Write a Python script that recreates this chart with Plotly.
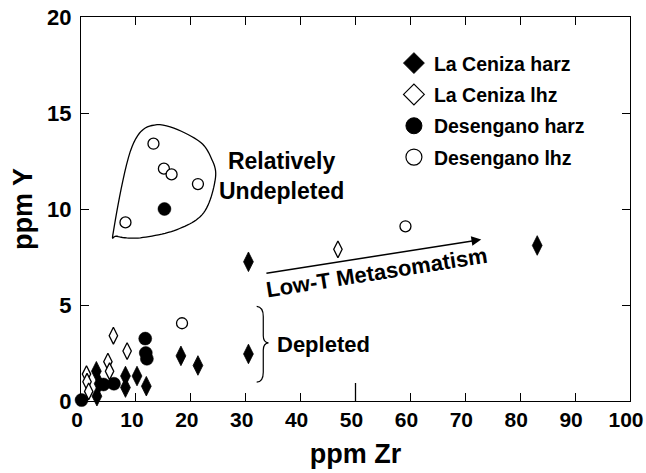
import numpy as np
import plotly.graph_objects as go

# ---- data: Zr vs Y (ppm) ----
lc_harz_zr = [2.8, 2.9, 3.3, 8.1, 8.1, 10.2, 11.9, 18.2, 21.3, 30.5, 30.5, 83.1]
lc_harz_y = [1.55, 0.25, 0.9, 1.3, 0.7, 1.3, 0.77, 2.35, 1.85, 2.45, 7.25, 8.1]

lc_lhz_zr = [1.0, 1.1, 1.4, 4.9, 5.2, 5.9, 8.4, 46.8]
lc_lhz_y = [1.4, 1.0, 0.5, 2.05, 1.55, 3.4, 2.6, 7.9]

ds_harz_zr = [0.1, 4.1, 6.0, 11.7, 11.8, 12.0, 15.2]
ds_harz_y = [0.05, 0.86, 0.9, 3.25, 2.5, 2.2, 10.0]

ds_lhz_zr = [8.1, 13.2, 15.1, 16.5, 21.3, 18.4, 59.1]
ds_lhz_y = [9.3, 13.4, 12.1, 11.8, 11.3, 4.05, 9.1]

series_names = ["La Ceniza harz", "La Ceniza lhz", "Desengano harz", "Desengano lhz"]

FONT = "Liberation Sans"
BLACK = "black"

fig = go.Figure()

# data traces
fig.add_trace(go.Scatter(x=lc_lhz_zr, y=lc_lhz_y, mode="markers", showlegend=False,
                         cliponaxis=False,
                         marker=dict(symbol="diamond-tall", size=12, color="white",
                                     line=dict(color=BLACK, width=1.3))))
fig.add_trace(go.Scatter(x=ds_lhz_zr, y=ds_lhz_y, mode="markers", showlegend=False,
                         cliponaxis=False,
                         marker=dict(symbol="circle", size=11, color="white",
                                     line=dict(color=BLACK, width=1.3))))
fig.add_trace(go.Scatter(x=lc_harz_zr, y=lc_harz_y, mode="markers", showlegend=False,
                         cliponaxis=False,
                         marker=dict(symbol="diamond-tall", size=14, color=BLACK,
                                     line=dict(color=BLACK, width=0.8))))
fig.add_trace(go.Scatter(x=ds_harz_zr, y=ds_harz_y, mode="markers", showlegend=False,
                         cliponaxis=False,
                         marker=dict(symbol="circle", size=13, color=BLACK,
                                     line=dict(color=BLACK, width=0.5))))

# legend keys
legend_markers = [
    dict(symbol="diamond", size=16, color=BLACK, line=dict(color=BLACK, width=1)),
    dict(symbol="diamond", size=16, color="white", line=dict(color=BLACK, width=1.2)),
    dict(symbol="circle", size=16, color=BLACK, line=dict(color=BLACK, width=1)),
    dict(symbol="circle", size=16, color="white", line=dict(color=BLACK, width=1.2)),
]
for name, mk in zip(series_names, legend_markers):
    fig.add_trace(go.Scatter(x=[None], y=[None], mode="markers", name=name,
                             marker=mk, legendgroup=name))

# outline around the relatively undepleted samples (closed Catmull-Rom spline)
ring = np.array([
    (5.96, 8.93), (9.31, 13.26), (13.85, 14.39), (21.13, 13.61), (23.85, 12.57),
    (24.45, 11.53), (22.33, 9.80), (17.49, 8.93), (10.82, 8.50), (6.58, 8.58),
])
pts = []
n = len(ring)
for i in range(n):
    p0, p1, p2, p3 = ring[i - 1], ring[i], ring[(i + 1) % n], ring[(i + 2) % n]
    for t in np.linspace(0, 1, 12, endpoint=False):
        t2, t3 = t * t, t * t * t
        pt = 0.5 * ((2 * p1) + (-p0 + p2) * t + (2 * p0 - 5 * p1 + 4 * p2 - p3) * t2
                    + (-p0 + 3 * p1 - 3 * p2 + p3) * t3)
        pts.append(pt)
ring_path = "M " + " L ".join(f"{x:.3f},{y:.3f}" for x, y in pts) + " Z"
fig.add_shape(type="path", path=ring_path, xref="x", yref="y",
              line=dict(color=BLACK, width=1.3))

# curly brace next to the depleted group
brace = ("M 32.0,4.93 Q 33.2,4.9 33.2,4.4 L 33.2,3.4 Q 33.2,3.05 34.15,3.03 "
         "Q 33.2,3.0 33.2,2.65 L 33.2,1.5 Q 33.2,1.0 32.0,0.98")
fig.add_shape(type="path", path=brace, xref="x", yref="y",
              line=dict(color=BLACK, width=1.2))

# longer tick at Zr = 50
fig.add_shape(type="line", xref="x", yref="y", x0=50, x1=50, y0=0, y1=18,
              ysizemode="pixel", yanchor=0, line=dict(color=BLACK, width=1.3))

ann_font = dict(family=FONT, size=22, color=BLACK, weight="bold")
fig.add_annotation(x=72.9, y=8.41, ax=33.5, ay=6.64, xref="x", yref="y",
                   axref="x", ayref="y", showarrow=True, arrowhead=2,
                   arrowsize=1.3, arrowwidth=1.5, arrowcolor=BLACK, text="")
fig.add_annotation(x=53.9, y=6.67, xref="x", yref="y", text="Low-T Metasomatism",
                   showarrow=False, textangle=-9, font=ann_font)
fig.add_annotation(x=36.6, y=11.7, xref="x", yref="y",
                   text="Relatively<br>Undepleted", showarrow=False, align="center",
                   font=dict(family=FONT, size=23, color=BLACK, weight="bold"))
fig.add_annotation(x=35.4, y=2.94, xref="x", yref="y", xanchor="left",
                   text="Depleted", showarrow=False, font=ann_font)

axis_common = dict(showline=True, linecolor=BLACK, linewidth=1.3, mirror="ticks",
                   ticks="inside", ticklen=8, tickwidth=1.3, tickcolor=BLACK,
                   showgrid=False, zeroline=False, ticklabeloverflow="allow",
                   automargin=False)

fig.update_layout(
    width=646, height=473,
    margin=dict(l=81, r=16, t=17, b=72),
    paper_bgcolor="white", plot_bgcolor="white",
    font=dict(family=FONT, color=BLACK, weight="bold"),
    xaxis=dict(range=[0, 100], dtick=10, ticklabelshift=-4,
               tickfont=dict(family=FONT, size=21, color=BLACK, weight="bold"),
               title=dict(text="ppm Zr", font=dict(family=FONT, size=27, weight="bold"),
                          standoff=13),
               **axis_common),
    yaxis=dict(range=[0, 20], dtick=5, ticklabelstandoff=4,
               tickfont=dict(family=FONT, size=22, color=BLACK, weight="bold"),
               title=dict(text="ppm Y", font=dict(family=FONT, size=27, weight="bold"),
                          standoff=6),
               **axis_common),
    legend=dict(x=0.57, y=0.93, xanchor="left", yanchor="top",
                bgcolor="rgba(0,0,0,0)", borderwidth=0, tracegroupgap=3,
                font=dict(family=FONT, size=19.5, color=BLACK, weight="bold")),
)

fig.write_html("out.html")
